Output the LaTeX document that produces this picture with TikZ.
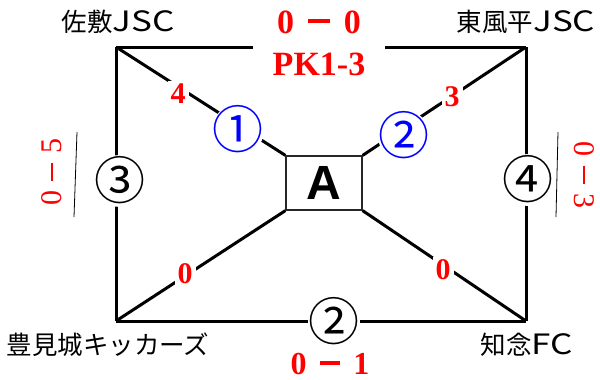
\documentclass[tikz,border=0pt]{standalone}
\usepackage{fontspec}
\newfontfamily\jpfont{Noto Sans CJK JP}
\newfontfamily\jpwide[FakeStretch=1.25]{Noto Sans CJK JP}
\newfontfamily\rsfont{Liberation Serif}
\newfontfamily\asfont{Liberation Sans}
\newcommand\sdash[2]{\hspace{#2}\rule[0.3em]{0.62em}{#1}\hspace{#2}}
\newcommand\cg[1]{\smash{\makebox[0pt]{\raisebox{-0.37em}{#1}}}}
\newcommand\lat{\jpwide\fontsize{28}{28}\selectfont}
\begin{document}
\begin{tikzpicture}[x=1pt,y=-1pt,
 conn/.style={line width=3pt},
 team/.style={font=\jpfont\fontsize{25.5}{25.5}\selectfont, inner sep=0pt},
 redbig/.style={text=red, font=\rsfont\bfseries\fontsize{34}{42}\selectfont, align=center},
 redmid/.style={text=red, font=\rsfont\bfseries\fontsize{32}{32}\selectfont, inner sep=0pt},
 elab/.style={text=red, font=\rsfont\bfseries\fontsize{30}{30}\selectfont, fill=white, inner sep=3pt},
 circ/.style={shape=circle, fill=white, minimum size=52pt, inner sep=0pt, font=\jpfont\fontsize{51}{51}\selectfont},
 side/.style={text=red, font=\rsfont\fontsize{30}{30}\selectfont, inner sep=0pt},
 thinl/.style={line width=0.8pt},
 boxa/.style={draw=black!85, line width=1.2pt, minimum width=76pt, minimum height=54pt, inner sep=0pt, font=\asfont\bfseries\fontsize{48}{48}\selectfont}]
\useasboundingbox (0,0) rectangle (600,380);
\coordinate (TL) at (116,47);
\coordinate (TR) at (526,47);
\coordinate (BL) at (116,321);
\coordinate (BR) at (526,321);
\node[boxa] (A) at (324,183) {A};
% connectors
\draw[conn] (TL) -- (TR);
\draw[conn] (TL) -- (BL);
\draw[conn] (TR) -- (BR);
\draw[conn] (BL) -- (BR);
\draw[conn] (TL) -- (A.north west);
\draw[conn] (TR) -- (A.north east);
\draw[conn] (BL) -- (A.south west);
\draw[conn] (BR) -- (A.south east);
% team names
\node[team] (t1) at (118,22) {佐敷{\lat JSC}};
\node[team] (t2) at (526,22) {東風平{\lat JSC}};
\node[team] (t3) at (108,345) {豊見城キッカーズ};
\node[team] (t4) at (527,345) {知念{\lat FC}};
% match numbers
\node[circ, text=blue] (c1) at (238,130) {\cg{①}};
\node[circ, text=blue] (c2) at (404,136) {\cg{②}};
\node[circ] (c3) at (120,181) {\cg{③}};
\node[circ] (c4) at (528,180) {\cg{④}};
\node[circ] (c5) at (334,322) {\cg{②}};
% edge scores
\node[elab] (e1) at (178,94) {4};
\node[elab] (e2) at (452,97) {3};
\node[elab] (e3) at (185,274) {0};
\node[elab] (e4) at (443,270) {0};
% results
\node[redbig, fill=white, minimum width=132pt] (s1) at (319,43) {0\sdash{0.13em}{0.42em}0\\PK1-3};
\node[redmid] (s2) at (330,364) {0\sdash{0.13em}{0.42em}1};
\node[side, rotate=90] (s3) at (52,172) {0\sdash{0.07em}{0.3em}5};
\node[side, rotate=-90] (s4) at (584,175) {0\sdash{0.07em}{0.3em}3};
% side marks
\coordinate (l1) at (77,132);
\coordinate (l2) at (74,217);
\coordinate (r1) at (558,132);
\coordinate (r2) at (556,217);
\draw[thinl] (l1) -- (l2);
\draw[thinl] (r1) -- (r2);
\end{tikzpicture}
\end{document}
